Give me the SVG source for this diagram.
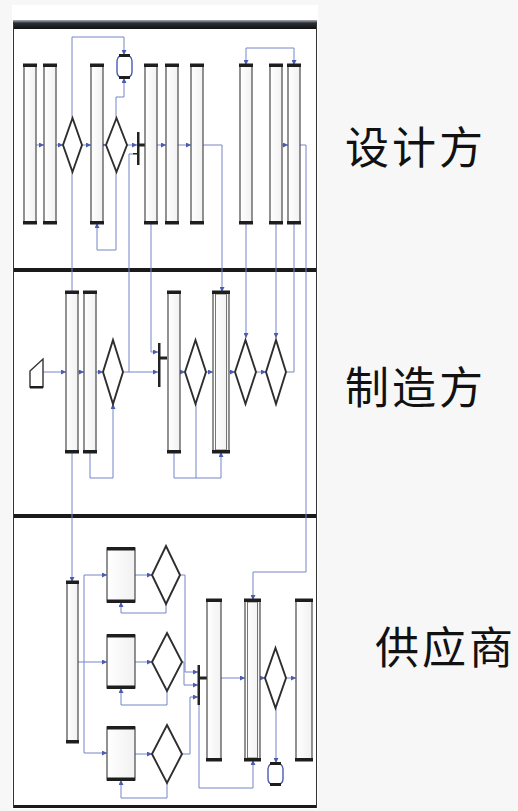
<svg xmlns="http://www.w3.org/2000/svg" width="518" height="811" viewBox="0 0 518 811">
<defs>
<linearGradient id="pg" x1="0" y1="0" x2="1" y2="0">
<stop offset="0" stop-color="#ffffff"/><stop offset="1" stop-color="#f1f1f1"/>
</linearGradient>
<linearGradient id="bar" x1="0" y1="0" x2="0" y2="1">
<stop offset="0" stop-color="#aab0b8"/><stop offset="0.35" stop-color="#2a2d33"/><stop offset="1" stop-color="#111"/>
</linearGradient>
<marker id="ar" viewBox="0 0 6 6" refX="6" refY="3" markerWidth="5" markerHeight="5" markerUnits="userSpaceOnUse" orient="auto">
<path d="M0,0 L6,3 L0,6 z" fill="#4a5cb0"/>
</marker>
<style>
.proc{fill:url(#pg);stroke:#4a4a4a;stroke-width:1.2}
.cap{fill:#1e1e1e}
.dec{fill:#fff;stroke:#2e2e2e;stroke-width:1.9}
.c{fill:none;stroke:#7586c8;stroke-width:1}
.ca{fill:none;stroke:#7586c8;stroke-width:1;marker-end:url(#ar)}
.sync{fill:#222}
.term{fill:#fff;stroke:#4a5cb0;stroke-width:1.4}
.lane{font-family:"Noto Sans CJK SC","Noto Sans",sans-serif;font-size:44px;fill:#111}
</style>
</defs>
<rect x="0" y="0" width="518" height="811" fill="#f7f7f7"/>
<rect x="12" y="5" width="306" height="804" fill="#ffffff"/>

<g id="frame">
<rect x="13" y="20" width="304" height="9" fill="url(#bar)"/>
<rect x="13" y="268" width="304" height="4" fill="#1a1a1a"/>
<rect x="13" y="514" width="304" height="4" fill="#1a1a1a"/>
<rect x="13" y="805" width="304" height="3" fill="#1a1a1a"/>
<line x1="13.5" y1="22" x2="13.5" y2="808" stroke="#333" stroke-width="1"/>
<line x1="316.5" y1="22" x2="316.5" y2="808" stroke="#333" stroke-width="1"/>
</g>

<g id="connectors">
<path class="ca" d="M36,145 H44"/>
<path class="ca" d="M56,145 H63"/>
<path class="ca" d="M82,145 H91"/>
<path class="ca" d="M103,145 H106"/>
<path class="ca" d="M127,145 H137"/>
<path class="ca" d="M157,145 H166"/>
<path class="ca" d="M178,145 H191"/>
<path class="ca" d="M203,145 H222 V292"/>
<path class="ca" d="M282,145 H288"/>
<path class="ca" d="M300,145 H306 V572 H253 V600"/>
<path class="ca" d="M72,118 V37 H124 V55"/>
<path class="ca" d="M116,118 V97 H124 V78"/>
<path class="ca" d="M116,172 V250 H97 V223"/>
<path class="ca" d="M72,172 V582"/>
<path class="ca" d="M151,223 V352 H158"/>
<path class="c" d="M133,154 H129 V372"/>
<path class="ca" d="M270,48 H246 V65"/>
<path class="ca" d="M270,48 H294 V65"/>
<path class="ca" d="M246,223 V338"/>
<path class="ca" d="M276,223 V338"/>
<path class="c" d="M294,223 V372"/>

<path class="ca" d="M43,372 H66"/>
<path class="ca" d="M78,372 H84"/>
<path class="ca" d="M96,372 H103"/>
<path class="ca" d="M123,372 H158"/>
<path class="ca" d="M180,372 H185"/>
<path class="ca" d="M206,372 H213"/>
<path class="ca" d="M229,372 H235"/>
<path class="ca" d="M256,372 H266"/>
<path class="c" d="M286,372 H294"/>
<path class="ca" d="M90,452 V478 H113 V404"/>
<path class="ca" d="M174,452 V478 H221 V452"/>
<path class="c" d="M196,404 V478"/>

<path class="ca" d="M78,662 H107"/>
<path class="c" d="M84,575 V753"/>
<path class="ca" d="M84,575 H107"/>
<path class="ca" d="M84,753 H107"/>
<path class="ca" d="M135,575 H152"/>
<path class="ca" d="M135,662 H152"/>
<path class="ca" d="M135,754 H152"/>
<path class="ca" d="M166,604 V613 H121 V602"/>
<path class="ca" d="M167,691 V705 H121 V688"/>
<path class="ca" d="M167,783 V798 H121 V780"/>
<path class="ca" d="M180,575 H185 V672 H198"/>
<path class="ca" d="M182,662 H184 V685 H198"/>
<path class="ca" d="M182,754 H190 V697 H198"/>
<path class="ca" d="M221,678 H245"/>
<path class="ca" d="M260,678 H265"/>
<path class="ca" d="M286,678 H296"/>
<path class="ca" d="M276,708 V763"/>
<path class="ca" d="M199,705 V788 H253 V760"/>
</g>

<g id="n1"><rect class="proc" x="24" y="65" width="12" height="158"/><rect class="cap" x="23" y="63.5" width="14" height="3.5"/><rect class="cap" x="23" y="221" width="14" height="3.5"/></g>
<g id="n2"><rect class="proc" x="44" y="65" width="12" height="158"/><rect class="cap" x="43" y="63.5" width="14" height="3.5"/><rect class="cap" x="43" y="221" width="14" height="3.5"/></g>
<g id="d1"><polygon class="dec" points="72.5,118 82,145 72.5,172 63,145"/></g>
<g id="n3"><rect class="proc" x="91" y="65" width="12" height="158"/><rect class="cap" x="90" y="63.5" width="14" height="3.5"/><rect class="cap" x="90" y="221" width="14" height="3.5"/></g>
<g id="d2"><polygon class="dec" points="116.5,118 127,145 116.5,172 106,145"/></g>
<g id="t1"><rect class="term" x="117" y="55" width="15" height="23" rx="6"/><rect class="cap" x="119" y="54" width="11" height="3"/><rect class="cap" x="119" y="76" width="11" height="3"/></g>
<g id="s1"><rect class="sync" x="137" y="132" width="2.5" height="33"/><rect class="sync" x="139" y="143.5" width="7" height="3"/><rect class="sync" x="133" y="153" width="4" height="1.5"/></g>
<g id="n4"><rect class="proc" x="145" y="65" width="12" height="158"/><rect class="cap" x="144" y="63.5" width="14" height="3.5"/><rect class="cap" x="144" y="221" width="14" height="3.5"/></g>
<g id="n5"><rect class="proc" x="166" y="65" width="12" height="158"/><rect class="cap" x="165" y="63.5" width="14" height="3.5"/><rect class="cap" x="165" y="221" width="14" height="3.5"/></g>
<g id="n6"><rect class="proc" x="191" y="65" width="12" height="158"/><rect class="cap" x="190" y="63.5" width="14" height="3.5"/><rect class="cap" x="190" y="221" width="14" height="3.5"/></g>
<g id="n7"><rect class="proc" x="240" y="65" width="12" height="158"/><rect class="cap" x="239" y="63.5" width="14" height="3.5"/><rect class="cap" x="239" y="221" width="14" height="3.5"/></g>
<g id="n8"><rect class="proc" x="270" y="65" width="12" height="158"/><rect class="cap" x="269" y="63.5" width="14" height="3.5"/><rect class="cap" x="269" y="221" width="14" height="3.5"/></g>
<g id="n9"><rect class="proc" x="288" y="65" width="12" height="158"/><rect class="cap" x="287" y="63.5" width="14" height="3.5"/><rect class="cap" x="287" y="221" width="14" height="3.5"/></g>

<g id="start"><polygon points="30,371 43,359 43,387 30,387" fill="#fff" stroke="#333" stroke-width="1.4"/><rect class="cap" x="30" y="386" width="13" height="2.5"/></g>
<g id="m1"><rect class="proc" x="66" y="292" width="12" height="160"/><rect class="cap" x="65" y="290.5" width="14" height="3.5"/><rect class="cap" x="65" y="450" width="14" height="3.5"/></g>
<g id="m2"><rect class="proc" x="84" y="292" width="12" height="160"/><rect class="cap" x="83" y="290.5" width="14" height="3.5"/><rect class="cap" x="83" y="450" width="14" height="3.5"/></g>
<g id="d3"><polygon class="dec" points="113,340 123,372 113,404 103,372"/></g>
<g id="s2"><rect class="sync" x="158" y="343" width="2.5" height="44"/><rect class="sync" x="160" y="356.5" width="7" height="3"/></g>
<g id="m3"><rect class="proc" x="168" y="292" width="12" height="160"/><rect class="cap" x="167" y="290.5" width="14" height="3.5"/><rect class="cap" x="167" y="450" width="14" height="3.5"/></g>
<g id="d4"><polygon class="dec" points="195.5,340 206,372 195.5,404 185,372"/></g>
<g id="m4"><rect class="proc" x="213" y="292" width="16" height="160" stroke-width="1.6"/><rect x="215.5" y="294" width="11" height="156" fill="none" stroke="#555" stroke-width="0.8"/><rect class="cap" x="212" y="290.5" width="18" height="3.5"/><rect class="cap" x="212" y="450" width="18" height="3.5"/></g>
<g id="d5"><polygon class="dec" points="245.5,340 256,372 245.5,404 235,372"/></g>
<g id="d6"><polygon class="dec" points="276,340 286,372 276,404 266,372"/></g>

<g id="p1"><rect class="proc" x="67" y="582" width="11" height="160"/><rect class="cap" x="66" y="580.5" width="13" height="3.5"/><rect class="cap" x="66" y="740" width="13" height="3.5"/></g>
<g id="f1"><rect class="proc" x="107" y="548" width="28" height="54"/><rect class="cap" x="107" y="547" width="28" height="3.5"/><rect class="cap" x="107" y="599.5" width="28" height="3.5"/></g>
<g id="f2"><rect class="proc" x="107" y="635" width="28" height="53"/><rect class="cap" x="107" y="634" width="28" height="3.5"/><rect class="cap" x="107" y="685.5" width="28" height="3.5"/></g>
<g id="f3"><rect class="proc" x="107" y="727" width="28" height="53"/><rect class="cap" x="107" y="726" width="28" height="3.5"/><rect class="cap" x="107" y="777.5" width="28" height="3.5"/></g>
<g id="g1"><polygon class="dec" points="166,546 180,575 166,604 152,575"/></g>
<g id="g2"><polygon class="dec" points="167,633 182,662 167,691 152,662"/></g>
<g id="g3"><polygon class="dec" points="167,725 182,754 167,783 152,754"/></g>
<g id="s3"><rect class="sync" x="197.5" y="665" width="2.5" height="40"/><rect class="sync" x="200" y="676.5" width="7" height="3"/></g>
<g id="p2"><rect class="proc" x="207" y="600" width="14" height="160"/><rect class="cap" x="206" y="598.5" width="16" height="3.5"/><rect class="cap" x="206" y="758" width="16" height="3.5"/></g>
<g id="p3"><rect class="proc" x="245" y="600" width="15" height="160" stroke-width="1.6"/><rect x="247.5" y="602" width="10" height="156" fill="none" stroke="#555" stroke-width="0.8"/><rect class="cap" x="244" y="598.5" width="17" height="3.5"/><rect class="cap" x="244" y="758" width="17" height="3.5"/></g>
<g id="j1"><polygon class="dec" points="275.5,648 286,678 275.5,708 265,678"/></g>
<g id="p4"><rect class="proc" x="296" y="600" width="16" height="160"/><rect class="cap" x="295" y="598.5" width="18" height="3.5"/><rect class="cap" x="295" y="758" width="18" height="3.5"/></g>
<g id="t2"><rect class="term" x="268" y="763" width="15" height="22" rx="6"/><rect class="cap" x="270" y="762" width="11" height="3"/><rect class="cap" x="270" y="783" width="11" height="3"/></g>

<g id="lanes">
<text class="lane" x="345" y="164" letter-spacing="3">设计方</text>
<text class="lane" x="345" y="404" letter-spacing="3">制造方</text>
<text class="lane" x="375" y="664" letter-spacing="3">供应商</text>
</g>
</svg>
